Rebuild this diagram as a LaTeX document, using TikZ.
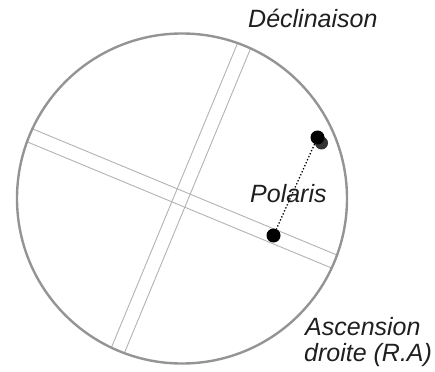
\documentclass[tikz,border=0pt]{standalone}
\usepackage{fontspec}
\setmainfont{Liberation Sans}
\begin{document}
\begin{tikzpicture}[x=1pt,y=-1pt,
  ring/.style={draw=black!42,line width=2.4pt},
  hair/.style={draw=black!30,line width=0.9pt},
  stardot/.style={circle,fill=black,inner sep=0pt,minimum size=14pt},
  shadowdot/.style={circle,fill=black!80,inner sep=0pt,minimum size=13pt},
  lbl/.style={inner sep=0pt,text=black!88,font=\fontsize{25}{30}\selectfont\itshape}]
\useasboundingbox (0,0) rectangle (435,371);
\coordinate (C) at (182,198.5);
\begin{scope}
  \clip (C) circle (165);
  \draw[hair] (264.1,15.9) -- (110.9,385.5);
  \draw[hair] (251.1,10.5) -- (97.9,380.1);
  \draw[hair] (-6.5,127.9) -- (363.1,281.1);
  \draw[hair] (-1.1,114.9) -- (368.5,268.1);
\end{scope}
\draw[ring] (C) circle (165);
\node[shadowdot] (sh) at (321.5,143) {};
\node[stardot] (pol) at (317.5,137.5) {};
\node[stardot] (pole) at (273.5,235.5) {};
\draw[dotted,line width=1.3pt] (pol) -- (pole);
\node[lbl,anchor=base west] (dec) at (248,28) {Déclinaison};
\node[lbl,anchor=base west] (plr) at (250,202.5) {Polaris};
\node[lbl,anchor=base west] (asc) at (305,335) {Ascension};
\node[lbl,anchor=base west] (dro) at (304,361) {droite (R.A)};
\end{tikzpicture}
\end{document}
